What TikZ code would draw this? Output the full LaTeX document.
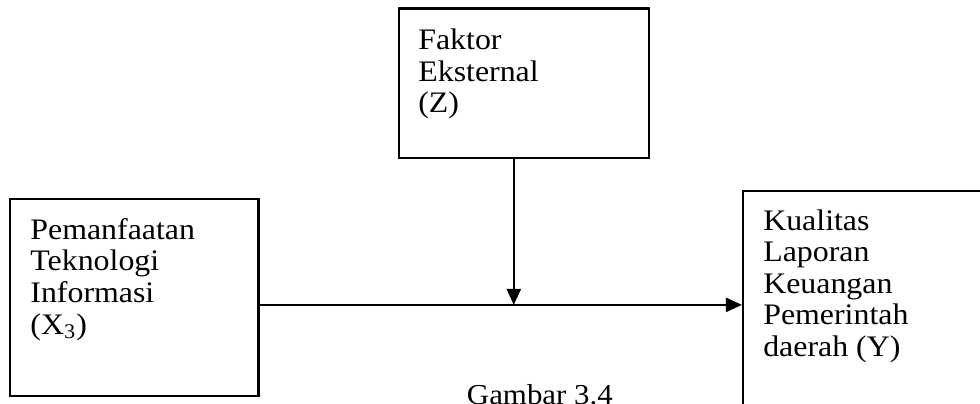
\documentclass[tikz,border=0pt]{standalone}
\usepackage{fontspec}
\setmainfont{Liberation Serif}[FakeStretch=1.07]
\usepackage{tikz}
\usetikzlibrary{arrows.meta, positioning, calc}

\begin{document}
\begin{tikzpicture}[
    >={Triangle[length=7pt, width=6.2pt]},
    box/.style={draw, line width=0.9pt, inner sep=0pt},
    boxtext/.style={anchor=north west, inner sep=0pt, align=left, font=\fontsize{13}{13.8}\selectfont},
    link/.style={line width=0.9pt},
]
    \useasboundingbox (0, 0) rectangle (15.03, 6.196);
    \clip (0, 0) rectangle (15.03, 6.196);

    % variable boxes
    \node[box, minimum width=3.81cm, minimum height=3.02cm] (x3) at (2.06, 1.63) {};
    \node[box, minimum width=3.83cm, minimum height=2.29cm] (z) at (8.04, 4.92) {};
    \node[box, minimum width=3.91cm, minimum height=3.67cm] (y) at (13.35, 1.43) {};

    \node[boxtext] (x3txt) at ($(x3.north west)+(0.32,-0.30)$) {Pemanfaatan\\Teknologi\\Informasi\\(X\textsubscript{3})};
    \node[boxtext] (ztxt) at ($(z.north west)+(0.30,-0.32)$) {Faktor\\Eksternal\\(Z)};
    \node[boxtext] (ytxt) at ($(y.north west)+(0.32,-0.29)$) {Kualitas\\Laporan\\Keuangan\\Pemerintah\\daerah (Y)};

    % moderated path
    \coordinate (junc) at (7.88, 1.52);
    \draw[->, link] (x3.east |- junc) -- (y.west |- junc);
    \draw[->, link] (z.south -| junc) -- (junc);

    \node[anchor=base, font=\fontsize{12.6}{13.8}\selectfont] (cap) at (8.28, -0.01) {Gambar 3.4};
\end{tikzpicture}
\end{document}
